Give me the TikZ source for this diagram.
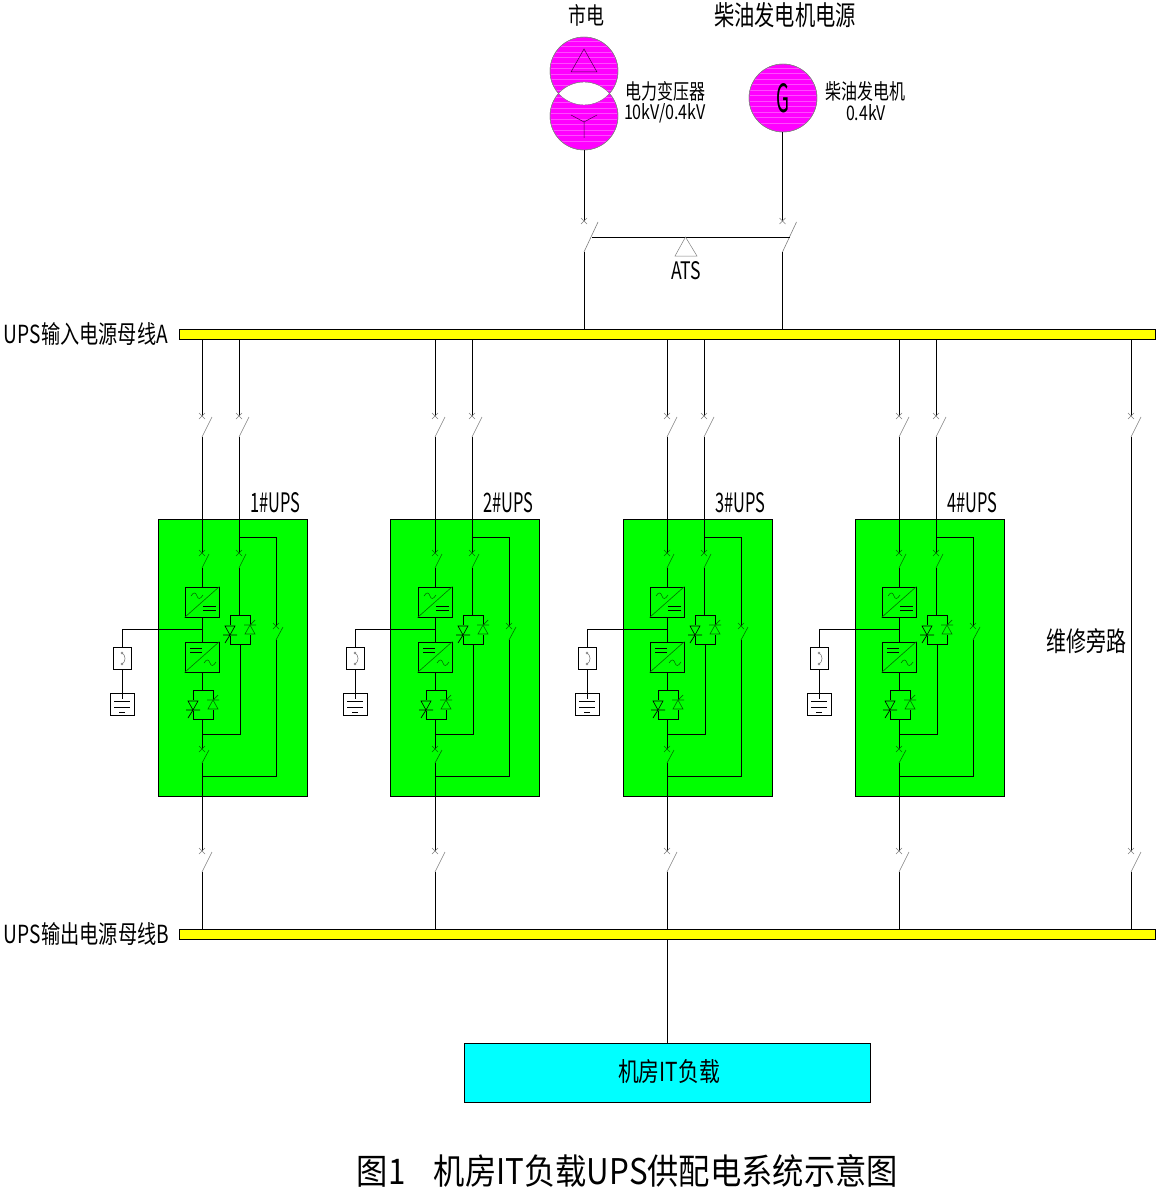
\documentclass[tikz,border=0pt]{standalone}
\usepackage{graphicx}
\usepackage{fontspec}
\setmainfont{Noto Sans CJK SC}
\usetikzlibrary{calc}
\definecolor{mag}{RGB}{255,0,255}
\definecolor{grn}{RGB}{0,255,0}
\definecolor{dgrn}{RGB}{0,110,0}
\definecolor{cyn}{RGB}{0,255,255}
\definecolor{yel}{RGB}{255,255,0}
\tikzset{
  wire/.style={line width=1pt,black},
  bus/.style={draw=black,fill=yel,line width=1pt,rectangle,inner sep=0pt,minimum width=976pt,minimum height=10pt},
  upsbox/.style={draw=black,fill=grn,line width=1pt,rectangle,inner sep=0pt,minimum width=149pt,minimum height=277pt},
  conv/.style={draw=black,line width=1pt,rectangle,inner sep=0pt,minimum width=34pt,minimum height=30pt},
  stat/.style={draw=black,line width=1pt,rectangle,inner sep=0pt,minimum width=20pt,minimum height=29pt},
  fusebox/.style={draw=black,fill=white,line width=1pt,rectangle,inner sep=0pt,minimum width=18pt,minimum height=22pt},
  batbox/.style={draw=black,fill=white,line width=1pt,rectangle,inner sep=0pt,minimum width=24pt,minimum height=22pt},
  source/.style={circle,fill=mag,draw=gray,line width=0.4pt,inner sep=0pt,minimum size=68pt},
  txt/.style={inner sep=0pt,outer sep=0pt,black}
}
\newcommand{\lbl}[6]{\node[txt] (#1) at (#2,#3) {\resizebox{#4pt}{#5pt}{#6}};}
\newcommand{\brk}[5]{%
  \draw[#5,line width=0.5pt] (#1-3,#2-3) -- (#1+3,#2+3) (#1-3,#2+3) -- (#1+3,#2-3);
  \draw[#5,line width=0.6pt] (#1,#3) -- (#1+#4,#2+1);}
\newcommand{\thy}[2]{%
  \fill[grn] (#1-12,#2+10) rectangle (#1-8,#2+21);
  \fill[grn] (#1+8,#2+10) rectangle (#1+12,#2+20);
  \draw[black,line width=0.6pt,fill=grn] (#1-15,#2+11) -- (#1-5,#2+11) -- (#1-10,#2+20) -- cycle;
  \draw[black,line width=0.7pt] (#1-17,#2+20) -- (#1-3,#2+20) (#1-10,#2+20) -- (#1-15,#2+28);
  \draw[dgrn,line width=0.6pt,fill=grn] (#1+5,#2+19) -- (#1+15,#2+19) -- (#1+10,#2+10) -- cycle;
  \draw[dgrn,line width=0.7pt] (#1+4,#2+10) -- (#1+16,#2+10) (#1+10,#2+10) -- (#1+15,#2+5);}
\newcommand{\tld}[2]{\draw[dgrn,line width=0.6pt] (#1,#2) .. controls (#1+3,#2-5) and (#1+5,#2-3) .. (#1+6,#2) .. controls (#1+7,#2+3) and (#1+9,#2+4) .. (#1+12,#2-1);}
\newcommand{\stripes}[1]{\foreach \k in {-30,-24.5,...,30} {\draw[mag!70!white,line width=0.35pt] ($(#1)+(-33,\k)$) -- ($(#1)+(33,\k)$);}}
\begin{document}
\begin{tikzpicture}[x=1pt,y=-1pt]
\useasboundingbox (0,0) rectangle (1165,1196);
\fill[white] (0,0) rectangle (1165,1196);

% buses and load
\node[bus] (busA) at (667,334) {};
\node[bus] (busB) at (667,934) {};
\node[draw=black,fill=cyn,line width=1pt,rectangle,inner sep=0pt,minimum width=406pt,minimum height=59pt] (load) at (667,1072.5) {};
\lbl{loadtxt}{669}{1072}{102}{22}{机房IT负载}
\draw[wire] (busB.south -| load.north) -- (load.north);

% sources
\node[source] (tfa) at (584,71) {};
\node[source] (tfb) at (584,116) {};
\node[source] (gen) at (783,98) {};
\foreach \c in {tfa,tfb,gen} {
 \begin{scope}
 \clip (\c) circle (33.6);
 \stripes{\c}
 \end{scope}
}
\begin{scope}
\clip (584,71) circle (33.8);
\clip (584,116) circle (33.8);
\fill[white] (540,30) rectangle (630,160);
\end{scope}
\draw[gray,line width=0.4pt] (584,71) circle (34) (584,116) circle (34) (783,98) circle (34);
\draw[black!70!mag,line width=0.5pt] (584,49) -- (571,72) -- (597,72) -- cycle;
\draw[black!70!mag,line width=0.5pt] (571,115) -- (584,122) -- (597,115) (584,122) -- (584,138);
\lbl{gtxt}{783}{98.5}{13}{29}{G}
\lbl{tf1}{665}{91}{80}{18}{电力变压器}
\lbl{tf2}{665}{113}{82}{16}{10kV/0.4kV}
\lbl{ge1}{865}{91}{80}{18}{柴油发电机}
\lbl{ge2}{866}{113}{40}{16}{0.4kV}
\lbl{src1}{586}{15}{36}{20}{市电}
\lbl{src2}{785}{15.5}{142}{23}{柴油发电机电源}

% ATS
\coordinate (atsL) at (584,221);
\coordinate (atsLb) at (584,252);
\coordinate (atsR) at (782.5,221);
\coordinate (atsRb) at (782.5,252);
\coordinate (atsBarL) at (592,237);
\coordinate (atsBarR) at (790,237);
\draw[wire] (tfb.south) -- (atsL);
\draw[wire] (gen.south -| atsR) -- (atsR);
\brk{584}{221}{252}{14}{gray}
\brk{782.5}{221}{252}{14}{gray}
\draw[wire] (atsBarL) -- (atsBarR);
\draw[wire] (atsLb) -- (busA.north -| atsLb);
\draw[wire] (atsRb) -- (busA.north -| atsRb);
\draw[gray,line width=0.5pt] (685.5,237) -- (675,256) -- (697,256) -- cycle;
\lbl{atstxt}{686}{271}{30}{18}{ATS}

\lbl{busAtxt}{86}{334.5}{164}{21}{UPS输入电源母线A}
\lbl{busBtxt}{86.5}{933.5}{165}{21}{UPS输出电源母线B}

% UPS units
\foreach \i/\xx/\bo in {1/202/31,2/435/30,3/667/30.5,4/899/31} {
\begin{scope}[shift={(\xx,0)}]
  \node[upsbox] (box\i) at (\bo,657.5) {};
  \lbl{name\i}{73}{503}{50}{20}{\i\#UPS}
  \coordinate (sa\i) at (0,416); \coordinate (sab\i) at (0,437);
  \coordinate (sc\i) at (37,416); \coordinate (scb\i) at (37,437);
  \coordinate (sb\i) at (0,553); \coordinate (sbb\i) at (0,568);
  \coordinate (sd\i) at (37,553); \coordinate (sdb\i) at (37,568);
  \coordinate (se\i) at (0,749); \coordinate (seb\i) at (0,763);
  \coordinate (sf\i) at (74,626); \coordinate (sfb\i) at (74,640);
  \coordinate (sg\i) at (0,851); \coordinate (sgb\i) at (0,872);
  \coordinate (top\i) at (37,537); \coordinate (topr\i) at (74,537);
  \coordinate (j1\i) at (0,734); \coordinate (j1r\i) at (38,734);
  \coordinate (j2\i) at (0,776); \coordinate (j2r\i) at (74,776);
  \coordinate (tap\i) at (0,629.5); \coordinate (tapl\i) at (-80,629.5);
  \coordinate (bati\i) at (-80,699);
  \coordinate (ssi\i) at (0,690); \coordinate (sso\i) at (0,719);
  \coordinate (usi\i) at (37,615); \coordinate (uso\i) at (38,644);
  \node[conv] (rec\i) at (0,602) {};
  \node[conv] (inv\i) at (0,657) {};
  \node[stat] (ss\i) at (1,704.5) {};
  \node[stat] (us\i) at (38,629.5) {};
  \node[fusebox] (fuse\i) at (-80,658) {};
  \node[batbox] (bat\i) at (-80,704) {};
  \draw[wire] (busA.south -| sa\i) -- (sa\i);
  \draw[wire] (busA.south -| sc\i) -- (sc\i);
  \draw[wire] (sab\i) -- (sb\i);
  \draw[wire] (scb\i) -- (sd\i);
  \draw[wire] (sbb\i) -- (rec\i.north);
  \draw[wire] (rec\i.south) -- (inv\i.north);
  \draw[wire] (inv\i.south) -- (ssi\i);
  \draw[wire] (sso\i) -- (se\i);
  \draw[wire] (seb\i) -- (sg\i);
  \draw[wire] (sgb\i) -- (busB.north -| sgb\i);
  \draw[wire] (sdb\i) -- (usi\i);
  \draw[wire] (uso\i) -- (j1r\i) -- (j1\i);
  \draw[wire] (top\i) -- (topr\i) -- (sf\i);
  \draw[wire] (sfb\i) -- (j2r\i) -- (j2\i);
  \draw[wire] (tap\i) -- (tapl\i) -- (fuse\i.north);
  \draw[wire] (fuse\i.south) -- (bati\i);
  \brk{0}{416}{437}{10}{gray}
  \brk{37}{416}{437}{10}{gray}
  \brk{0}{553}{568}{7}{dgrn}
  \brk{37}{553}{568}{7}{dgrn}
  \brk{74}{626}{640}{7}{dgrn}
  \brk{0}{749}{763}{7}{dgrn}
  \brk{0}{851}{872}{10}{gray}
  \draw[dgrn,line width=0.6pt] (rec\i.south west) -- (rec\i.north east);
  \draw[dgrn,line width=0.6pt] (inv\i.south west) -- (inv\i.north east);
  \tld{-11}{596}
  \tld{2}{663}
  \draw[black,line width=0.7pt] (1,606) -- (14,606) (1,610) -- (14,610);
  \draw[black,line width=0.7pt] (-12,648) -- (0,648) (-12,652) -- (0,652);
  \thy{1}{690}
  \thy{38}{615}
  \draw[gray,line width=0.6pt] (-80,653) .. controls (-76,655) and (-76,662) .. (-80,664);
  \draw[gray,line width=0.5pt] (-80,653) circle (1) (-80,664) circle (1);
  \draw[black,line width=0.7pt] (-88,701) -- (-72,701) (-88,707) -- (-72,707) (-83,712) -- (-77,712);
\end{scope}
}

% maintenance bypass
\coordinate (bpa) at (1131,416); \coordinate (bpab) at (1131,437);
\coordinate (bpb) at (1131,851); \coordinate (bpbb) at (1131,872);
\draw[wire] (busA.south -| bpa) -- (bpa);
\draw[wire] (bpab) -- (bpb);
\draw[wire] (bpbb) -- (busB.north -| bpbb);
\brk{1131}{416}{437}{10}{gray}
\brk{1131}{851}{872}{10}{gray}
\lbl{bptxt}{1086}{641.5}{80}{23}{维修旁路}

% title
\lbl{title}{627.5}{1171}{541}{30}{图1\hspace{0.9em}机房IT负载UPS供配电系统示意图}
\end{tikzpicture}
\end{document}
